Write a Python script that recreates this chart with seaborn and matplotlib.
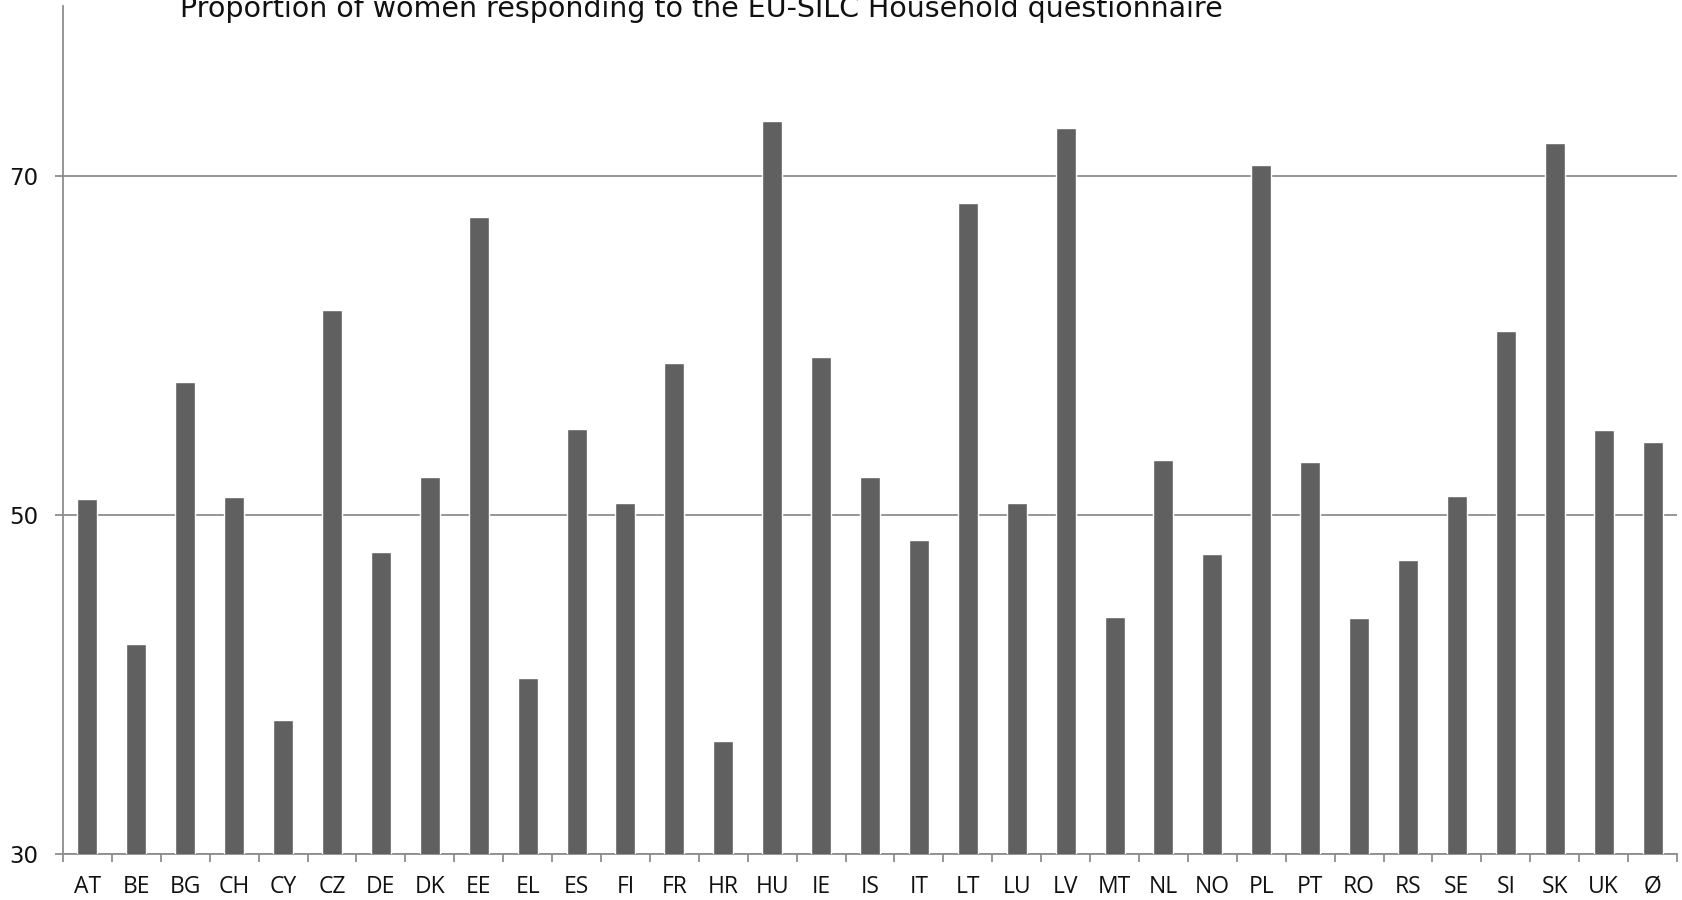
import numpy as np
import matplotlib
matplotlib.use("Agg")
import matplotlib.pyplot as plt
import seaborn as sns

# Share of women answering the household questionnaire, by country
countries = ["AT", "BE", "BG", "CH", "CY", "CZ", "DE", "DK", "EE", "EL", "ES",
             "FI", "FR", "HR", "HU", "IE", "IS", "IT", "LT", "LU", "LV", "MT",
             "NL", "NO", "PL", "PT", "RO", "RS", "SE", "SI", "SK", "UK", "Ø"]
women_share = [50.95, 42.4, 57.85, 51.05, 37.9, 62.05, 47.8, 52.25, 67.55, 40.4,
               55.05, 50.7, 58.95, 36.65, 73.2, 59.3, 52.25, 48.5, 68.4, 50.7,
               72.8, 43.95, 53.25, 47.7, 70.6, 53.1, 43.9, 47.35, 51.1, 60.85,
               71.95, 55.0, 54.3]
y_ticks = [30, 50, 70]

title_text = "Proportion of women responding to the EU-SILC Household questionnaire"

sns.set_theme(style="white")
plt.rcParams["font.family"] = ["DejaVu Sans"]

axis_grey = "#8e8e8e"
bar_grey = "#606060"

fig = plt.figure(figsize=(16.82, 9.0), dpi=100)
# axes box: x from 63 px to 1677 px, y from 854 px (bottom) to 6 px (top)
ax = fig.add_axes([63 / 1682, 1 - 854 / 900, (1677 - 63) / 1682, (854 - 6) / 900])

sns.barplot(x=countries, y=women_share, color=bar_grey, saturation=1,
            width=0.41, ax=ax, zorder=3)

ax.set_ylim(30, 80)
ax.set_xlim(-0.5, len(countries) - 0.5)
ax.set_yticks(y_ticks)
ax.set_yticklabels([str(t) for t in y_ticks], fontsize=16.5, color="#111111")

ax.set_xticks(np.arange(len(countries)))
ax.set_xticklabels(countries, fontsize=16.5, family=["Open Sans", "DejaVu Sans"],
                   color="#111111")
ax.set_xticks(np.arange(-0.5, len(countries)), minor=True)

ax.tick_params(axis="x", which="major", length=0, pad=15)
ax.tick_params(axis="x", which="minor", length=5.5, width=1.3, color=axis_grey,
               direction="out", bottom=True)
ax.tick_params(axis="y", which="major", length=6, width=1.3, color=axis_grey,
               direction="out", left=True, pad=12)

ax.yaxis.grid(True, color=axis_grey, linewidth=1.3, zorder=1)
ax.xaxis.grid(False)
ax.set_axisbelow(True)

for side in ("top", "right"):
    ax.spines[side].set_visible(False)
for side in ("left", "bottom"):
    ax.spines[side].set_visible(True)
    ax.spines[side].set_color(axis_grey)
    ax.spines[side].set_linewidth(1.3)

ax.set_xlabel("")
ax.set_ylabel("")

fig.text(180 / 1682, 1 - 17 / 900, title_text, fontsize=20.5, color="#111111",
         ha="left", va="baseline")

fig.savefig("out.png", dpi=100, facecolor="white")
